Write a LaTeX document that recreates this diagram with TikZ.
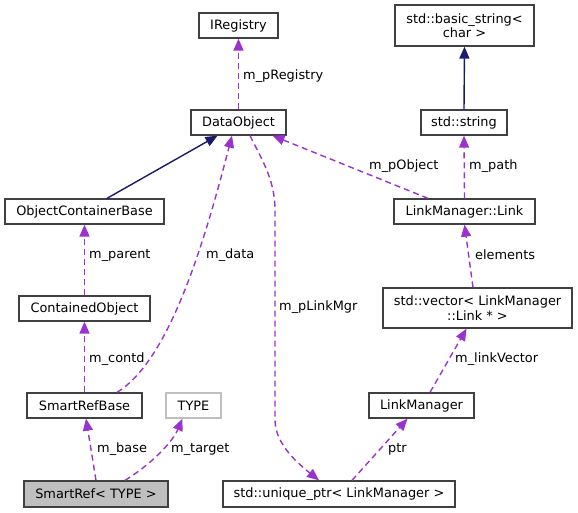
\documentclass[tikz,border=0pt]{standalone}
\usepackage{fontspec}
\setmainfont{DejaVu Sans}
\usetikzlibrary{arrows.meta}
\definecolor{boxgray}{HTML}{404040}
\definecolor{lightbox}{HTML}{BFBFBF}
\definecolor{dep}{HTML}{9A32CD}
\definecolor{inh}{HTML}{191970}
\tikzset{
  cls/.style={draw=boxgray, line width=1.3pt, minimum height=25pt, inner sep=0pt, align=center,
    font=\fontsize{12.9}{14.5}\selectfont, text=black},
  lbl/.style={anchor=west, inner sep=0pt, font=\fontsize{12.9}{14.5}\selectfont},
  depedge/.style={draw=dep, line width=1.4pt, dash pattern=on 6pt off 4pt,
    -{Triangle[length=12pt,width=10pt,fill=dep]}},
  inhedge/.style={draw=inh, line width=1.4pt,
    -{Triangle[length=12pt,width=10pt,fill=inh]}}
}
\begin{document}
\begin{tikzpicture}[x=1pt,y=-1pt]
\useasboundingbox (0,0) rectangle (578,513);
% nodes
\node[cls, minimum width=79pt] (ireg) at (238.5,25.5) {IRegistry};
\node[cls, minimum width=139pt, minimum height=41pt] (bstr) at (464.5,25.5) {std::basic\_string\textless\\char \textgreater};
\node[cls, minimum width=95pt] (dobj) at (238.5,122.5) {DataObject};
\node[cls, minimum width=86pt] (str) at (464,122.5) {std::string};
\node[cls, minimum width=159pt] (ocb) at (84.5,211.5) {ObjectContainerBase};
\node[cls, minimum width=141pt] (link) at (464.5,211.5) {LinkManager::Link};
\node[cls, minimum width=131pt] (cobj) at (84.5,308.5) {ContainedObject};
\node[cls, minimum width=189pt, minimum height=40pt] (vec) at (477.5,308) {std::vector\textless{} LinkManager\\::Link * \textgreater};
\node[cls, minimum width=115pt] (srb) at (84.5,405.5) {SmartRefBase};
\node[cls, draw=lightbox, minimum width=55pt] (type) at (193.5,405.5) {TYPE};
\node[cls, minimum width=105pt] (lm) at (421.5,405.5) {LinkManager};
\node[cls, fill=lightbox, minimum width=144pt, minimum height=26pt] (sr) at (96,494) {SmartRef\textless{} TYPE \textgreater};
\node[cls, minimum width=232pt, minimum height=26pt] (uptr) at (339,494) {std::unique\_ptr\textless{} LinkManager \textgreater};
% inheritance
\draw[inhedge] (str.north) -- (bstr.south);
\draw[inhedge] ([xshift=22.5pt]ocb.north) -- ([xshift=-21pt]dobj.south);
% dependencies
\draw[depedge] (dobj.north) -- (ireg.south);
\draw[depedge] ([xshift=-36.5pt]link.north) -- ([xshift=34pt]dobj.south);
\draw[depedge] (link.north) -- (str.south);
\draw[depedge] (cobj.north) -- (ocb.south);
\draw[depedge] (srb.north) -- (cobj.south);
\draw[depedge] ([xshift=32.5pt]srb.north) .. controls (170,360) and (205,240) .. ([xshift=-6.5pt]dobj.south);
\draw[depedge] ([xshift=-4.5pt]vec.north) -- (link.south);
\draw[depedge] ([xshift=8.5pt]lm.north) -- ([xshift=-11pt]vec.south);
\draw[depedge] ([xshift=13pt]uptr.north) -- ([xshift=-14pt]lm.south);
\draw[depedge] ([xshift=11.5pt]dobj.south) .. controls (262,160) and (275,180) .. (275,210) -- (275,420) .. controls (275,445) and (300,465) .. ([xshift=-20pt]uptr.north);
\draw[depedge] (sr.north) -- ([xshift=1.5pt]srb.south);
\draw[depedge] ([xshift=29pt]sr.north) .. controls (150,465) and (172,443) .. ([xshift=-11pt]type.south);
% labels
\node[lbl] (l1) at (243,76) {m\_pRegistry};
\node[lbl] (l2) at (369,166) {m\_pObject};
\node[lbl] (l3) at (469,166) {m\_path};
\node[lbl] (l4) at (89,255) {m\_parent};
\node[lbl] (l5) at (206,255) {m\_data};
\node[lbl] (l6) at (475,255) {elements};
\node[lbl] (l7) at (279,307) {m\_pLinkMgr};
\node[lbl] (l8) at (89,359) {m\_contd};
\node[lbl] (l9) at (455,359) {m\_linkVector};
\node[lbl] (l10) at (97,449) {m\_base};
\node[lbl] (l11) at (171,449) {m\_target};
\node[lbl] (l12) at (388,449) {ptr};
\end{tikzpicture}
\end{document}
